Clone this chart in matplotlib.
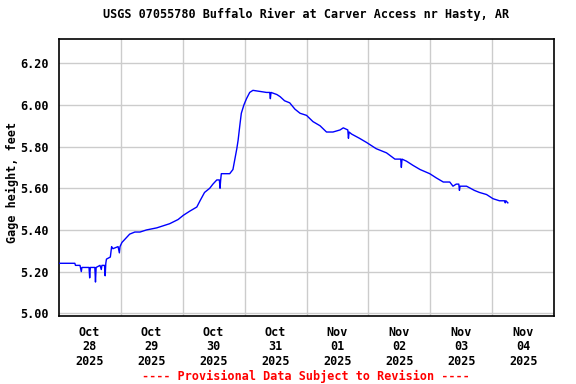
import matplotlib
matplotlib.use("Agg")
import matplotlib.pyplot as plt
import pandas as pd

# ---- data ----
times = [
    "2025-10-28 00:00", "2025-10-28 06:15", "2025-10-28 06:30", "2025-10-28 08:15", "2025-10-28 08:45",
    "2025-10-28 09:00", "2025-10-28 11:45", "2025-10-28 12:00", "2025-10-28 12:15", "2025-10-28 14:00",
    "2025-10-28 14:15", "2025-10-28 14:30", "2025-10-28 16:00", "2025-10-28 16:30", "2025-10-28 16:45",
    "2025-10-28 17:45", "2025-10-28 18:00", "2025-10-28 18:15", "2025-10-28 18:30", "2025-10-28 20:00",
    "2025-10-28 20:30", "2025-10-28 21:00", "2025-10-28 23:00", "2025-10-28 23:30", "2025-10-28 23:45",
    "2025-10-29 00:30", "2025-10-29 03:30", "2025-10-29 05:30", "2025-10-29 07:30", "2025-10-29 10:00",
    "2025-10-29 14:00", "2025-10-29 16:30", "2025-10-29 19:00", "2025-10-29 22:15", "2025-10-30 00:15",
    "2025-10-30 02:45", "2025-10-30 05:30", "2025-10-30 06:45", "2025-10-30 08:30", "2025-10-30 10:30",
    "2025-10-30 11:45", "2025-10-30 13:15", "2025-10-30 14:15", "2025-10-30 14:30", "2025-10-30 14:45",
    "2025-10-30 15:00", "2025-10-30 18:15", "2025-10-30 19:30", "2025-10-30 20:15", "2025-10-30 21:00",
    "2025-10-30 21:30", "2025-10-30 22:15", "2025-10-30 22:45", "2025-10-30 23:45", "2025-10-31 00:45",
    "2025-10-31 02:00", "2025-10-31 03:15", "2025-10-31 08:30", "2025-10-31 09:45", "2025-10-31 10:00",
    "2025-10-31 10:15", "2025-10-31 12:30", "2025-10-31 13:45", "2025-10-31 15:30", "2025-10-31 17:30",
    "2025-10-31 19:30", "2025-10-31 21:30", "2025-11-01 00:00", "2025-11-01 02:30", "2025-11-01 05:15",
    "2025-11-01 07:45", "2025-11-01 10:15", "2025-11-01 13:00", "2025-11-01 14:15", "2025-11-01 16:00",
    "2025-11-01 16:15", "2025-11-01 16:30", "2025-11-01 17:30", "2025-11-01 20:30", "2025-11-01 23:15",
    "2025-11-02 03:00", "2025-11-02 07:00", "2025-11-02 10:15", "2025-11-02 12:30", "2025-11-02 12:45",
    "2025-11-02 13:00", "2025-11-02 14:45", "2025-11-02 17:15", "2025-11-02 20:00", "2025-11-02 23:45",
    "2025-11-03 02:15", "2025-11-03 05:00", "2025-11-03 07:30", "2025-11-03 08:45", "2025-11-03 10:00",
    "2025-11-03 11:00", "2025-11-03 11:15", "2025-11-03 11:30", "2025-11-03 14:00", "2025-11-03 17:00",
    "2025-11-03 19:00", "2025-11-03 21:45", "2025-11-04 00:15", "2025-11-04 02:45", "2025-11-04 04:45",
    "2025-11-04 05:00", "2025-11-04 05:15", "2025-11-04 06:00",
]
gage_height = [
    5.24, 5.24, 5.23, 5.23, 5.20,
    5.22, 5.22, 5.17, 5.22, 5.22,
    5.15, 5.22, 5.23, 5.21, 5.23,
    5.23, 5.18, 5.24, 5.26, 5.27,
    5.32, 5.31, 5.32, 5.29, 5.32,
    5.34, 5.38, 5.39, 5.39, 5.40,
    5.41, 5.42, 5.43, 5.45, 5.47,
    5.49, 5.51, 5.54, 5.58, 5.60,
    5.62, 5.64, 5.64, 5.60, 5.64,
    5.67, 5.67, 5.69, 5.74, 5.79,
    5.83, 5.91, 5.96, 6.00, 6.03,
    6.06, 6.07, 6.06, 6.06, 6.03,
    6.06, 6.05, 6.04, 6.02, 6.01,
    5.98, 5.96, 5.95, 5.92, 5.90,
    5.87, 5.87, 5.88, 5.89, 5.88,
    5.84, 5.87, 5.86, 5.84, 5.82,
    5.79, 5.77, 5.74, 5.74, 5.70,
    5.74, 5.73, 5.71, 5.69, 5.67,
    5.65, 5.63, 5.63, 5.61, 5.62,
    5.62, 5.59, 5.61, 5.61, 5.59,
    5.58, 5.57, 5.55, 5.54, 5.54,
    5.53, 5.54, 5.53,
]
y_ticks = [5.00, 5.20, 5.40, 5.60, 5.80, 6.00, 6.20]
day_labels = ["Oct\n28\n2025", "Oct\n29\n2025", "Oct\n30\n2025", "Oct\n31\n2025",
              "Nov\n01\n2025", "Nov\n02\n2025", "Nov\n03\n2025", "Nov\n04\n2025"]
title = "USGS 07055780 Buffalo River at Carver Access nr Hasty, AR"
ylabel = "Gage height, feet"
footer = "---- Provisional Data Subject to Revision ----"

t = pd.to_datetime(times)
start = pd.Timestamp("2025-10-28 00:00")
end = pd.Timestamp("2025-11-05 00:00")

plt.rcParams['font.family'] = ['DejaVu Sans Mono']
plt.rcParams['font.weight'] = 'bold'

fig = plt.figure(figsize=(5.76, 3.84), dpi=100)
ax = fig.add_axes([58.7 / 576, 1 - 316 / 384, (554.3 - 58.7) / 576, (316 - 39.3) / 384])

ax.plot(t, gage_height, color="#0000FF", linewidth=1.0, zorder=3)

ax.set_xlim(start, end)
ax.set_ylim(4.987, 6.315)

# grid: horizontal at y ticks, vertical at midnights
midnights = pd.date_range("2025-10-29", "2025-11-04", freq="D")
for m in midnights:
    ax.axvline(m, color="#cccccc", linewidth=1.0, zorder=1)
for yv in y_ticks:
    ax.axhline(yv, color="#cccccc", linewidth=1.0, zorder=1)

ax.set_yticks(y_ticks)
ax.set_yticklabels([f"{v:.2f}" for v in y_ticks], fontsize=8.5, fontweight='bold')
noons = pd.date_range("2025-10-28 12:00", periods=8, freq="D")
ax.set_xticks(noons)
ax.set_xticklabels(day_labels, fontsize=8.5, fontweight='bold', linespacing=1.15)
ax.tick_params(axis='both', length=0)
ax.tick_params(axis='y', pad=7)
ax.tick_params(axis='x', pad=7)

for s in ax.spines.values():
    s.set_color("black")
    s.set_linewidth(1.2)

fig.text(12 / 576, 1 - 182 / 384, ylabel, rotation=90, fontsize=8.5, fontweight='bold',
         ha="center", va="center")
ax.set_title(title, fontsize=8.5, fontweight='bold', pad=15)

fig.text(306 / 576, 1 - 376 / 384, footer, color="red", fontsize=8.5, fontweight='bold',
         ha="center", va="center")

fig.savefig("out.png", dpi=100)
